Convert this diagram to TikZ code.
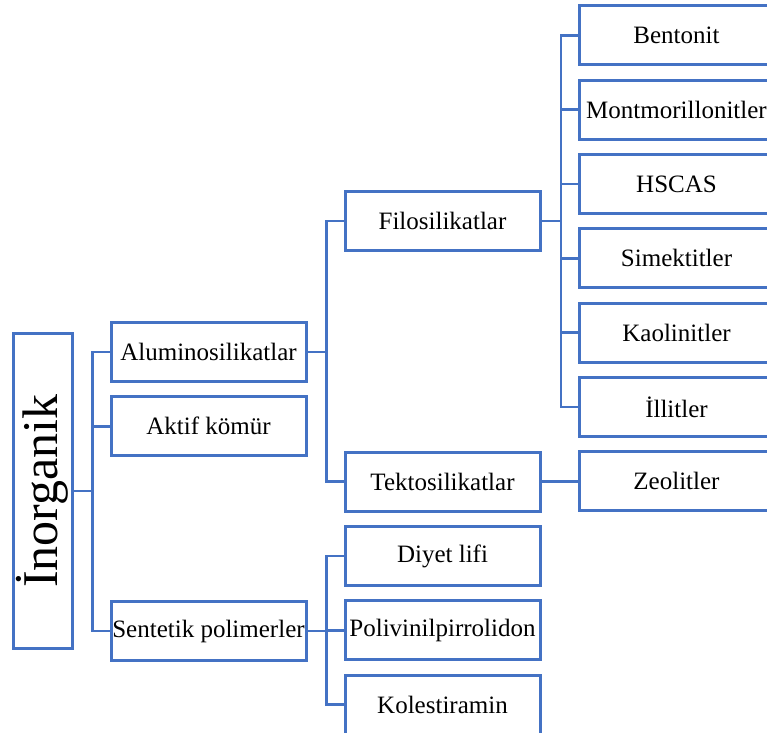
\documentclass[tikz,border=0pt]{standalone}
\usepackage{fontspec}
\setmainfont{Liberation Serif}
\usepackage{xcolor}
\usepackage{tikz}
\definecolor{lineblue}{HTML}{4472C4}

\begin{document}
\begin{tikzpicture}[x=0.5pt, y=-0.5pt, node distance=37.15pt,
  every node/.style={draw=lineblue, line width=1.5pt, align=center, inner sep=0pt, font=\fontsize{12.5pt}{15pt}\selectfont},
  box/.style={minimum width=97.5pt, minimum height=29.5pt},
  link/.style={draw=lineblue, line width=1.4pt}]
\useasboundingbox (0,0) rectangle (767,733);
% root and first level
\node[minimum width=29.5pt, minimum height=157pt] (root) at (42.5,491) {\rotatebox{90}{\fontsize{25pt}{30pt}\selectfont İnorganik}};
\node[box] (alu) at (208.5,352) {Aluminosilikatlar};
\node[box, below of=alu] (aktif) {Aktif kömür};
\node[box] (sent) at (208.5,631) {Sentetik polimerler};
% second level
\node[box] (fil) at (442.5,221) {Filosilikatlar};
\node[box] (tek) at (442.5,481.5) {Tektosilikatlar};
\node[box] (diyet) at (442.5,556) {Diyet lifi};
\node[box, below of=diyet] (poli) {Polivinilpirrolidon};
\node[box, below of=poli] (kole) {Kolestiramin};
% third level
\node[box] (bent) at (676.5,35.5) {Bentonit};
\node[box, below of=bent] (mont) {Montmorillonitler};
\node[box, below of=mont] (hscas) {HSCAS};
\node[box, below of=hscas] (simek) {Simektitler};
\node[box, below of=simek] (kaol) {Kaolinitler};
\node[box, below of=kaol] (ill) {İllitler};
\node[box, below of=ill] (zeo) {Zeolitler};
% connectors
\foreach \n in {alu,aktif,sent}
  \draw[link] (root.east) -- ++(19,0) |- (\n.west);
\foreach \n in {fil,tek}
  \draw[link] (alu.east) -- ++(19,0) |- (\n.west);
\foreach \n in {diyet,poli,kole}
  \draw[link] (sent.east) -- ++(19,0) |- (\n.west);
\foreach \n in {bent,mont,hscas,simek,kaol,ill}
  \draw[link] (fil.east) -- ++(19.5,0) |- (\n.west);
\draw[link] (tek.east) -- (tek.east -| zeo.west);
\end{tikzpicture}
\end{document}
